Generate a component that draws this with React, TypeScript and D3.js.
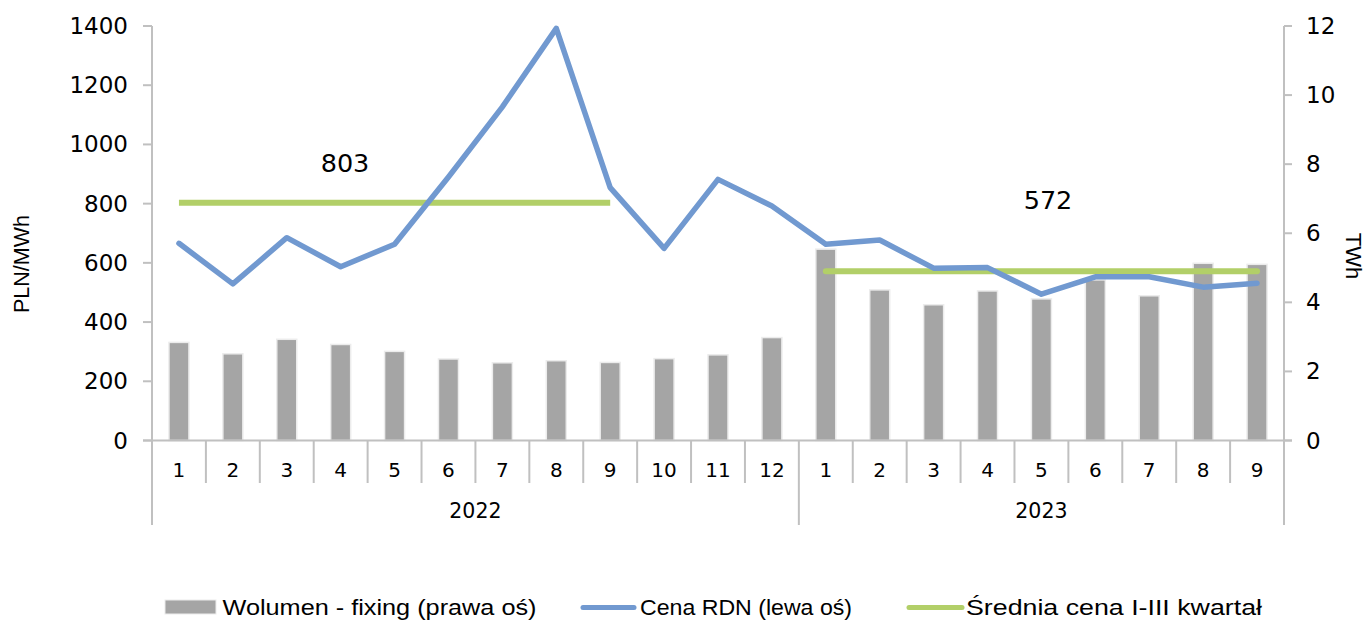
import React from "react";
import * as d3 from "d3";

const months = ["1", "2", "3", "4", "5", "6", "7", "8", "9", "10", "11", "12", "1", "2", "3", "4", "5", "6", "7", "8", "9"];
const yearLabels = ["2022", "2023"];
const yearCounts = [12, 9];
const volumeTWh = [2.84, 2.51, 2.93, 2.78, 2.58, 2.36, 2.25, 2.31, 2.26, 2.37, 2.48, 2.98, 5.54, 4.36, 3.93, 4.33, 4.1, 4.65, 4.19, 5.13, 5.1];
const priceRDN = [666, 529, 685, 587, 663, 890, 1127, 1392, 854, 649, 882, 792, 663, 677, 582, 584, 494, 553, 553, 518, 531];
const avgValues = [803, 572];
const avgRanges = [[0, 8], [12, 20]];
const leftTicks = [0, 200, 400, 600, 800, 1000, 1200, 1400];
const rightTicks = [0, 2, 4, 6, 8, 10, 12];
const legendLabels = ["Wolumen - fixing (prawa oś)", "Cena RDN (lewa oś)", "Średnia cena I-III kwartał"];

const W = 1367, H = 621;
const X0 = 152, X1 = 1284, Y0 = 440.5, Y1 = 26;
const AXIS = "#c0c0c0";
const BAR = "#a5a5a5";
const BLUE = "#7199d0";
const GREEN = "#b2cf68";
const TICK_FONT = "'DejaVu Sans', Verdana, sans-serif";
const LEG_FONT = "'Liberation Sans', Arial, sans-serif";

export default function App() {
  const idx = months.map((_, i) => i);
  const x = d3.scaleBand<number>().domain(idx).range([X0, X1]).padding(0);
  const bw = x.bandwidth();
  const cx = (i: number) => (x(i) as number) + bw / 2;
  const yL = d3.scaleLinear().domain([0, 1400]).range([Y0, Y1]);
  const yR = d3.scaleLinear().domain([0, 12]).range([Y0, Y1]);
  const barW = bw * 0.371;

  const line = d3.line<number>().x((_, i) => cx(i)).y((d) => yL(d));

  const yearBounds: number[] = [0];
  yearCounts.forEach((c, i) => yearBounds.push(yearBounds[i] + c));

  return (
    <svg width={W} height={H} style={{ position: "fixed", left: 0, top: 0, display: "block", background: "#fff" }}>
      {volumeTWh.map((v, i) => (
        <rect key={"b" + i} x={cx(i) - barW / 2} y={yR(v)} width={barW} height={Y0 - yR(v)} fill={BAR} stroke="#ececec" strokeWidth={1.5} />
      ))}
      <line x1={X0} y1={Y1} x2={X0} y2={525} stroke={AXIS} strokeWidth={2} />
      <line x1={X1} y1={Y1} x2={X1} y2={525} stroke={AXIS} strokeWidth={2} />
      <line x1={143} y1={Y0} x2={1292} y2={Y0} stroke={AXIS} strokeWidth={2} />
      {leftTicks.map((t) => (
        <g key={"lt" + t}>
          <line x1={143} x2={X0} y1={yL(t)} y2={yL(t)} stroke={AXIS} strokeWidth={2} />
          <text x={128} y={yL(t)} textAnchor="end" dominantBaseline="central" fontFamily={TICK_FONT} fontSize={23} fill="#000">{t}</text>
        </g>
      ))}
      {rightTicks.map((t) => (
        <g key={"rt" + t}>
          <line x1={X1} x2={1292} y1={yR(t)} y2={yR(t)} stroke={AXIS} strokeWidth={2} />
          <text x={1306} y={yR(t)} textAnchor="start" dominantBaseline="central" fontFamily={TICK_FONT} fontSize={23} fill="#000">{t}</text>
        </g>
      ))}
      {idx.slice(1).map((i) => {
        const xx = x(i) as number;
        const isYear = yearBounds.includes(i);
        return <line key={"s" + i} x1={xx} x2={xx} y1={Y0} y2={isYear ? 525 : 483} stroke={AXIS} strokeWidth={2} />;
      })}
      {months.map((m, i) => (
        <text key={"m" + i} x={cx(i)} y={470} textAnchor="middle" dominantBaseline="central" fontFamily={TICK_FONT} fontSize={20} fill="#000">{m}</text>
      ))}
      {yearLabels.map((yl, k) => {
        const a = x(yearBounds[k]) as number;
        const b = yearBounds[k + 1] < months.length ? (x(yearBounds[k + 1]) as number) : X1;
        return <text key={"y" + k} x={(a + b) / 2} y={511} textAnchor="middle" dominantBaseline="central" fontFamily={TICK_FONT} fontSize={20.5} fill="#000">{yl}</text>;
      })}
      {avgValues.map((v, k) => (
        <line key={"a" + k} x1={cx(avgRanges[k][0])} x2={cx(avgRanges[k][1])} y1={yL(v)} y2={yL(v)} stroke={GREEN} strokeWidth={6} strokeLinecap={k === 0 ? "butt" : "round"} />
      ))}
      <path d={line(priceRDN) || ""} fill="none" stroke={BLUE} strokeWidth={5.5} strokeLinejoin="round" strokeLinecap="round" />
      <text x={345} y={163} textAnchor="middle" dominantBaseline="central" fontFamily={TICK_FONT} fontSize={25.5} fill="#000">{avgValues[0]}</text>
      <text x={1048} y={200} textAnchor="middle" dominantBaseline="central" fontFamily={TICK_FONT} fontSize={25.5} fill="#000">{avgValues[1]}</text>
      <text transform={`translate(22,264) rotate(-90)`} textAnchor="middle" dominantBaseline="central" fontFamily={LEG_FONT} fontSize={21.5} fill="#000">PLN/MWh</text>
      <text transform={`translate(1353,256) rotate(90)`} textAnchor="middle" dominantBaseline="central" fontFamily={LEG_FONT} fontSize={22} fill="#000">TWh</text>
      <rect x={165} y={600} width={51} height={14} fill={BAR} stroke="#ececec" strokeWidth={1} />
      <text x={222.5} y={607.5} dominantBaseline="central" fontFamily={LEG_FONT} fontSize={22} textLength={314} lengthAdjust="spacingAndGlyphs" fill="#000">{legendLabels[0]}</text>
      <line x1={583} x2={634} y1={607.5} y2={607.5} stroke={BLUE} strokeWidth={5} strokeLinecap="round" />
      <text x={640} y={607.5} dominantBaseline="central" fontFamily={LEG_FONT} fontSize={22} textLength={212} lengthAdjust="spacingAndGlyphs" fill="#000">{legendLabels[1]}</text>
      <line x1={909} x2={962} y1={607.5} y2={607.5} stroke={GREEN} strokeWidth={5} strokeLinecap="round" />
      <text x={966} y={607.5} dominantBaseline="central" fontFamily={LEG_FONT} fontSize={22} textLength={296} lengthAdjust="spacingAndGlyphs" fill="#000">{legendLabels[2]}</text>
    </svg>
  );
}
